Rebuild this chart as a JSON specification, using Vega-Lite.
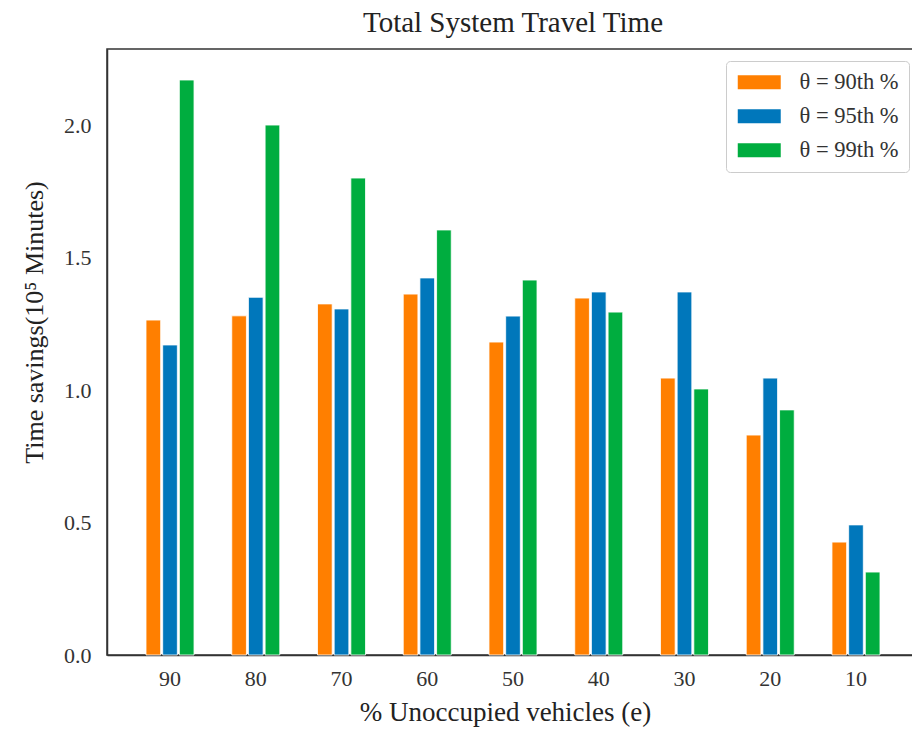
{
  "$schema": "https://vega.github.io/schema/vega-lite/v6.json",
  "autosize": "none",
  "width": 812,
  "height": 606,
  "padding": {"left": 107, "top": 49, "right": 0, "bottom": 76},
  "background": "white",
  "title": {"text": "Total System Travel Time", "font": "Liberation Serif", "fontSize": 29, "fontWeight": "normal", "color": "#222", "offset": 11, "anchor": "middle"},
  "config": {
    "view": {"stroke": "#333", "strokeWidth": 1.5},
    "axis": {"labelFont": "Liberation Serif", "titleFont": "Liberation Serif", "labelColor": "#333", "titleColor": "#222", "titleFontWeight": "normal", "grid": false, "ticks": false, "domainColor": "#333", "domainWidth": 1.5}
  },
  "data": {"values": [
    {"e": "90", "theta": "θ = 90th %", "v": 1.264},
    {"e": "90", "theta": "θ = 95th %", "v": 1.17},
    {"e": "90", "theta": "θ = 99th %", "v": 2.17},
    {"e": "80", "theta": "θ = 90th %", "v": 1.28},
    {"e": "80", "theta": "θ = 95th %", "v": 1.35},
    {"e": "80", "theta": "θ = 99th %", "v": 2.0},
    {"e": "70", "theta": "θ = 90th %", "v": 1.325},
    {"e": "70", "theta": "θ = 95th %", "v": 1.306},
    {"e": "70", "theta": "θ = 99th %", "v": 1.80},
    {"e": "60", "theta": "θ = 90th %", "v": 1.362},
    {"e": "60", "theta": "θ = 95th %", "v": 1.423},
    {"e": "60", "theta": "θ = 99th %", "v": 1.604},
    {"e": "50", "theta": "θ = 90th %", "v": 1.181},
    {"e": "50", "theta": "θ = 95th %", "v": 1.279},
    {"e": "50", "theta": "θ = 99th %", "v": 1.415},
    {"e": "40", "theta": "θ = 90th %", "v": 1.347},
    {"e": "40", "theta": "θ = 95th %", "v": 1.37},
    {"e": "40", "theta": "θ = 99th %", "v": 1.294},
    {"e": "30", "theta": "θ = 90th %", "v": 1.045},
    {"e": "30", "theta": "θ = 95th %", "v": 1.37},
    {"e": "30", "theta": "θ = 99th %", "v": 1.004},
    {"e": "20", "theta": "θ = 90th %", "v": 0.83},
    {"e": "20", "theta": "θ = 95th %", "v": 1.045},
    {"e": "20", "theta": "θ = 99th %", "v": 0.925},
    {"e": "10", "theta": "θ = 90th %", "v": 0.426},
    {"e": "10", "theta": "θ = 95th %", "v": 0.491},
    {"e": "10", "theta": "θ = 99th %", "v": 0.313}
  ]},
  "mark": {"type": "bar", "stroke": "white", "strokeWidth": 0.8},
  "encoding": {
    "x": {
      "field": "e", "type": "ordinal",
      "sort": ["90", "80", "70", "60", "50", "40", "30", "20", "10"],
      "scale": {"paddingInner": 0.44, "paddingOuter": 0.455},
      "axis": {"labelAngle": 0, "labelFontSize": 22, "labelPadding": 13, "title": "% Unoccupied vehicles (e)", "titleFontSize": 27, "titlePadding": 10, "titleX": 398}
    },
    "xOffset": {
      "field": "theta", "type": "nominal",
      "scale": {"paddingInner": 0.12}
    },
    "y": {
      "field": "v", "type": "quantitative",
      "scale": {"domain": [0, 2.287], "nice": false},
      "axis": {"values": [0, 0.5, 1, 1.5, 2], "format": ".1f", "labelFontSize": 22, "labelPadding": 16, "title": "Time savings(10⁵ Minutes)", "titleFontSize": 26, "titleY": 273, "titlePadding": 16}
    },
    "color": {
      "field": "theta", "type": "nominal",
      "scale": {"range": ["#FF7F00", "#0077BB", "#00AD3F"]},
      "legend": {
        "title": null, "orient": "none", "legendX": 619, "legendY": 12,
        "strokeColor": "#cccccc", "fillColor": "white", "cornerRadius": 4, "padding": 10,
        "labelFont": "Liberation Serif", "labelFontSize": 22.5, "labelColor": "#333", "labelOffset": 29,
        "symbolType": "M-2,-0.65H2V0.65H-2Z", "symbolSize": 462, "symbolOffset": 12, "symbolStrokeWidth": 0, "symbolOpacity": 1,
        "rowPadding": 11
      }
    }
  }
}
